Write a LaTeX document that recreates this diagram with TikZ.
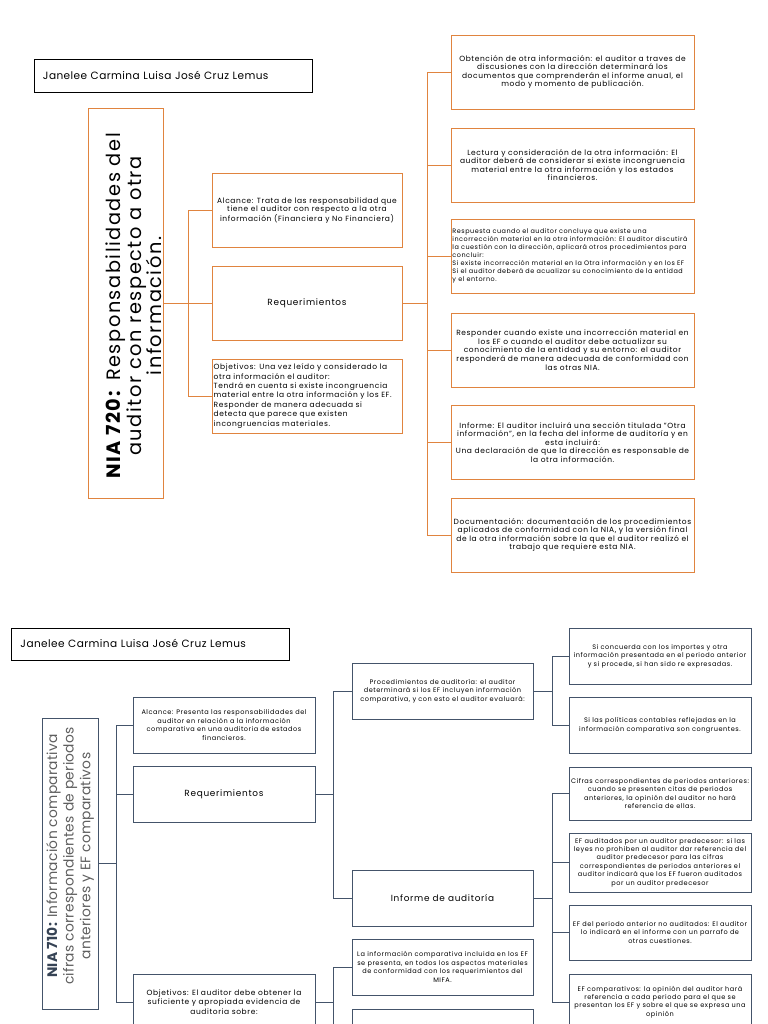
\documentclass[tikz,border=0pt]{standalone}
\usepackage{fontspec}
\setmainfont{Poppins}
\usepackage{xcolor}
\definecolor{ocre}{HTML}{E0843F}
\definecolor{slate}{HTML}{44546A}
\definecolor{greytext}{HTML}{5F5F5F}
\usepackage{tikz}
\usetikzlibrary{positioning, calc}

\begin{document}
\begin{tikzpicture}[
  x=0.03cm, y=-0.03cm,
  font=\fontsize{6.4}{7.3}\selectfont\addfontfeature{LetterSpace=8},
  box/.style={draw, line width=0.7pt, align=center, inner sep=1pt},
  mid/.style={box, draw=ocre, minimum width=5.7cm, minimum height=2.22cm},
  side/.style={box, draw=ocre, minimum width=7.29cm, minimum height=2.22cm},
  gbox/.style={box, draw=slate, minimum width=5.46cm, minimum height=1.68cm,
    font=\fontsize{5.6}{7.2}\selectfont\addfontfeature{LetterSpace=8}},
  big/.style={font=\fontsize{7.6}{9}\selectfont\addfontfeature{LetterSpace=8}},
  namebox/.style={draw=black, line width=0.7pt, minimum height=0.98cm, text width=7.8cm,
    inner xsep=0.27cm, align=left, font=\fontsize{9}{10}\selectfont\addfontfeature{LetterSpace=4}},
  olink/.style={ocre, line width=0.8pt},
  glink/.style={slate, line width=0.8pt}
]
  \useasboundingbox (0,0) rectangle (768,1024);
  \clip (0,0) rectangle (768,1024);

  % NIA 720
  \node[namebox] (name1) at (173,76) {\raisebox{1.5pt}{Janelee Carmina Luisa José Cruz Lemus}};
  \node[box, draw=ocre, minimum width=2.25cm, minimum height=11.7cm] (nia720) at (125.5,303) {};
  \node[rotate=90, align=center, font=\fontsize{16.5}{17.5}\selectfont\addfontfeature{LetterSpace=8}] (nia720txt) at (134,306)
    {\textbf{NIA 720:} Responsabilidades del\\ auditor con respecto a otra\\ información.};

  \node[mid] (alc) at (307,210.5) {Alcance: Trata de las responsabilidad que\\ tiene el auditor con respecto a la otra\\ información (Financiera y No Financiera)};
  \node[mid, big] (req) at (307,303.5) {Requerimientos};
  \node[mid, align=left, text width=5.6cm, font=\fontsize{6.4}{8}\selectfont\addfontfeature{LetterSpace=8}] (obj) at (307,396) {Objetivos: Una vez leído y considerado la\\ otra información el auditor:\\ Tendrá en cuenta si existe incongruencia\\ material entre la otra información y los EF.\\ Responder de manera adecuada si\\ detecta que parece que existen\\ incongruencias materiales.};

  \node[side] (b1) at (572.5,72) {Obtención de otra información: el auditor a traves de\\ discusiones con la dirección determinará los\\ documentos que comprenderán el informe anual, el\\ modo y momento de publicación.};
  \node[side] (b2) at (572.5,165) {Lectura y consideración de la otra información: El\\ auditor deberá de considerar si existe incongruencia\\ material entre la otra información y los estados\\ financieros.};
  \node[side, align=left, text width=7.2cm, font=\fontsize{5.5}{6.8}\selectfont\addfontfeature{LetterSpace=8}] (b3) at (572.5,256) {Respuesta cuando el auditor concluye que existe una\\ incorrección material en la otra información: El auditor discutirá\\ la cuestión con la dirección, aplicará otros procedimientos para\\ concluir:\\ Si existe incorrección material en la Otra información y en los EF\\ Si el auditor deberá de acualizar su conocimiento de la entidad\\ y el entorno.};
  \node[side] (b4) at (572.5,350) {Responder cuando existe una incorrección material en\\ los EF o cuando el auditor debe actualizar su\\ conocimiento de la entidad y su entorno: el auditor\\ responderá de manera adecuada de conformidad con\\ las otras NIA.};
  \node[side] (b5) at (572.5,442.5) {Informe: El auditor incluirá una sección titulada "Otra\\ información", en la fecha del informe de auditoría y en\\ esta incluirá:\\ Una declaración de que la dirección es responsable de\\ la otra información.};
  \node[side] (b6) at (572.5,535) {Documentación: documentación de los procedimientos\\ aplicados de conformidad con la NIA, y la versión final\\ de la otra información sobre la que el auditor realizó el\\ trabajo que requiere esta NIA.};

  \coordinate (t1) at (188,0);
  \coordinate (t2) at (427,0);
  \foreach \n in {alc,req,obj}
    \draw[olink] (nia720.east) -- (nia720.east -| t1) |- (\n.west);
  \foreach \n in {b1,b2,b3,b4,b5,b6}
    \draw[olink] (req.east) -- (req.east -| t2) |- (\n.west);

  % NIA 710
  \node[namebox] (name2) at (150.5,644.5) {\raisebox{1.5pt}{Janelee Carmina Luisa José Cruz Lemus}};
  \node[box, draw=slate, minimum width=1.68cm, minimum height=8.73cm] (nia710) at (70,863.5) {};
  \node[rotate=90, align=center, text=greytext, font=\fontsize{11.8}{14.2}\selectfont\addfontfeature{LetterSpace=2}] (nia710txt) at (70,856)
    {\textbf{\color{slate!80!black}NIA 710:} Información comparativa\\ cifras correspondientes de periodos\\ anteriores y EF comparativos};

  \node[gbox] (alc2) at (224,725) {Alcance: Presenta las responsabilidades del\\ auditor en relación a la información\\ comparativa en una auditoria de estados\\ financieros.};
  \node[gbox, big] (req2) at (224,794.5) {Requerimientos};
  \node[gbox, font=\fontsize{6.4}{8}\selectfont\addfontfeature{LetterSpace=8}] (obj2) at (224,1002) {Objetivos: El auditor debe obtener la\\ suficiente y apropiada evidencia de\\ auditoria sobre:};

  \node[gbox, minimum width=5.43cm] (proc) at (442.5,691) {Procedimientos de auditoría: el auditor\\ determinará si los EF incluyen información\\ comparativa, y con esto el auditor evaluará:};
  \node[gbox, big, minimum width=5.43cm] (inf) at (442.5,898) {Informe de auditoría};
  \node[gbox, minimum width=5.43cm] (lainf) at (442.5,967) {La información comparativa incluida en los EF\\ se presenta, en todos los aspectos materiales\\ de conformidad con los requerimientos del\\ MIFA.};
  \node[gbox, minimum width=5.43cm] (sig) at (442.5,1037) {};

  \node[gbox] (r1) at (660,656) {Si concuerda con los importes y otra\\ información presentada en el periodo anterior\\ y si procede, si han sido re expresadas.};
  \node[gbox] (r2) at (660,725.5) {Si las políticas contables reflejadas en la\\ información comparativa son congruentes.};
  \node[gbox, minimum height=1.59cm] (r3) at (660,793.5) {Cifras correspondientes de periodos anteriores:\\ cuando se presenten citas de periodos\\ anteriores, la opinión del auditor no hará\\ referencia de ellas.};
  \node[gbox, minimum height=1.77cm] (r4) at (660,862.5) {EF auditados por un auditor predecesor: si las\\ leyes no prohiben al auditor dar referencia del\\ auditor predecesor para las cifras\\ correspondientes de periodos anteriores el\\ auditor indicará que los EF fueron auditados\\ por un auditor predecesor};
  \node[gbox, minimum height=1.65cm] (r5) at (660,932.5) {EF del periodo anterior no auditados: El auditor\\ lo indicará en el informe con un parrafo de\\ otras cuestiones.};
  \node[gbox] (r6) at (660,1002) {EF comparativos: la opinión del auditor hará\\ referencia a cada periodo para el que se\\ presentan los EF y sobre el que se expresa una\\ opinión};

  \coordinate (t3) at (116,0);
  \coordinate (t4) at (333,0);
  \coordinate (t5) at (552,0);
  \foreach \n in {alc2,req2,obj2}
    \draw[glink] (nia710.east) -- (nia710.east -| t3) |- (\n.west);
  \foreach \n in {proc,inf}
    \draw[glink] (req2.east) -- (req2.east -| t4) |- (\n.west);
  \foreach \n in {lainf,sig}
    \draw[glink] (obj2.east) -- (obj2.east -| t4) |- (\n.west);
  \foreach \n in {r1,r2}
    \draw[glink] (proc.east) -- (proc.east -| t5) |- (\n.west);
  \foreach \n in {r3,r4,r5,r6}
    \draw[glink] (inf.east) -- (inf.east -| t5) |- (\n.west);
\end{tikzpicture}
\end{document}
